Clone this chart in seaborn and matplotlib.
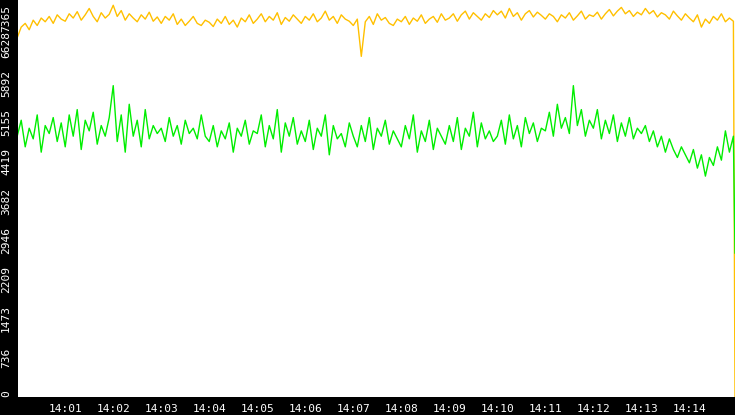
import matplotlib
matplotlib.use("Agg")
import matplotlib.pyplot as plt
import seaborn as sns
import pandas as pd

yellow_vals = [
6750,6950,7020,6900,7080,6980,7120,7050,7150,7020,7180,7100,
7060,7200,7120,7240,7080,7180,7300,7150,7050,7220,7120,7190,
7360,7150,7260,7080,7200,7120,7050,7180,7100,7230,7060,7140,
7020,7150,7080,7200,7000,7100,6980,7060,7150,7020,6980,7080,
7040,6960,7100,7020,7150,7000,7080,6950,7120,7050,7180,7020,
7100,7200,7050,7150,7080,7220,7000,7130,7060,7180,7100,7020,
7150,7080,7200,7050,7120,7250,7080,7150,7020,7180,7100,7060,
6980,7100,6400,7050,7150,7000,7200,7080,7130,7020,6980,7100,
7050,7150,7000,7120,7060,7180,7020,7100,7150,7040,7200,7080,
7120,7200,7060,7180,7250,7100,7220,7150,7080,7200,7130,7260,
7180,7250,7120,7300,7150,7220,7080,7200,7260,7140,7230,7170,
7100,7200,7150,7050,7180,7120,7220,7080,7160,7250,7100,7180,
7150,7230,7100,7200,7280,7160,7250,7320,7200,7260,7150,7230,
7180,7300,7200,7260,7140,7220,7180,7100,7250,7160,7080,7200,
7120,7050,7180,6950,7100,7020,7150,7080,7200,7050,7120,7060,
0]
green_vals = [
4900,5200,4700,5050,4850,5300,4600,5100,4950,5250,4800,5150,
4700,5300,4900,5400,4650,5200,5000,5350,4750,5100,4900,5250,
5850,4800,5300,4600,5500,4900,5200,4700,5400,4850,5100,4950,
5050,4800,5250,4900,5100,4750,5200,4950,5050,4850,5300,4900,
4800,5100,4700,5000,4850,5150,4600,5050,4900,5200,4750,5000,
4950,5300,4700,5100,4850,5400,4600,5150,4900,5250,4750,5000,
4800,5200,4650,5050,4900,5300,4550,5100,4850,4950,4700,5150,
4900,4700,5100,4800,5250,4650,5050,4900,5200,4750,5000,4850,
4700,5100,4850,5300,4600,5000,4800,5200,4650,5050,4900,4750,
5100,4800,5250,4650,5050,4900,5350,4700,5150,4850,5000,4800,
4900,5200,4750,5300,4850,5100,4700,5250,4950,5150,4800,5050,
5000,5350,4900,5500,5050,5250,4950,5850,5100,5400,4900,5200,
5050,5400,4850,5200,4950,5300,4800,5150,4900,5250,4850,5050,
4950,5100,4800,5000,4700,4900,4600,4850,4650,4500,4700,4550,
4400,4650,4300,4550,4150,4500,4350,4700,4450,5000,4600,4900,
2700]
y_ticks = [0,736,1473,2209,2946,3682,4419,5155,5892,6628,7365]
x_tick_labels = ["14:%02d" % m for m in range(1,15)]

start = pd.Timestamp("2024-01-01 14:00:00")
times = list(pd.date_range(start, periods=len(yellow_vals)-1, freq="5s")) + [pd.Timestamp("2024-01-01 14:14:57")]
df = pd.DataFrame({"t": times, "yellow": yellow_vals, "green": green_vals})

sns.set_style("white")
plt.rcParams['font.family'] = ['DejaVu Sans Mono', 'DejaVu Sans']
fig = plt.figure(figsize=(7.35,4.15), dpi=100, facecolor="black")
ax = fig.add_axes([18/735, 18/415, 717/735, 397/415])
ax.set_facecolor("white")
sns.lineplot(data=df, x="t", y="yellow", color="#FFC000", lw=1, ax=ax)
sns.lineplot(data=df, x="t", y="green", color="#00EE00", lw=1, ax=ax)
ax.set_xlim(pd.Timestamp("2024-01-01 14:00:01"), pd.Timestamp("2024-01-01 14:14:57"))
ax.set_ylim(0, 7365*397/392)
ax.set_yticks(y_ticks)
ax.set_yticklabels([str(v) for v in y_ticks], rotation=90, va="center", color="white", fontsize=8)
labels = ax.get_yticklabels()
labels[-1].set_va("top")
labels[0].set_va("bottom")
ax.set_xticks([start + pd.Timedelta(minutes=m) for m in range(1,15)])
ax.set_xticklabels(x_tick_labels, color="white", fontsize=8)
ax.tick_params(axis="both", colors="white", length=4, width=1, pad=1, labelcolor="white")
ax.set_xlabel(""); ax.set_ylabel("")
for s in ax.spines.values():
    s.set_visible(False)
fig.savefig("out.png", dpi=100, facecolor="black")
